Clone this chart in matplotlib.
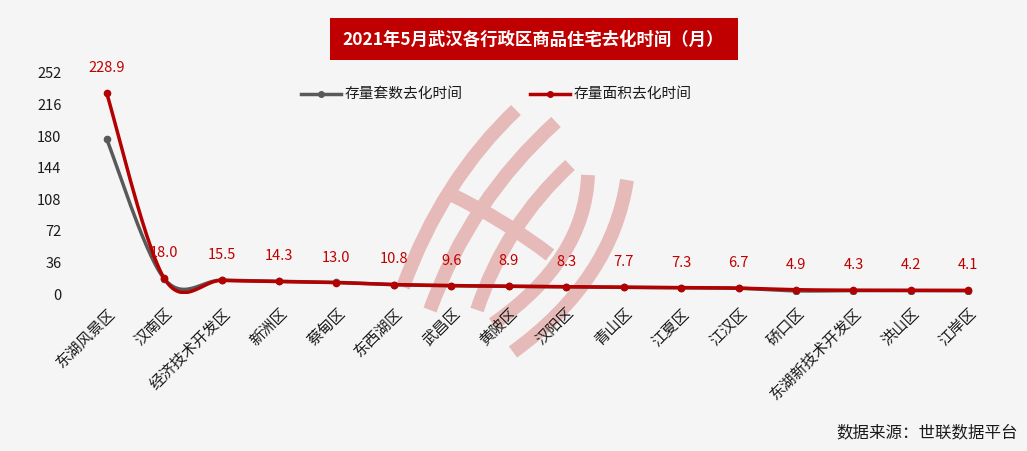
import numpy as np
import matplotlib
matplotlib.use("Agg")
from matplotlib import pyplot as plt
from matplotlib.patches import PathPatch, Rectangle
from matplotlib.path import Path

plt.rcParams["font.family"] = ["Noto Sans CJK SC", "DejaVu Sans"]

districts = ["东湖风景区", "汉南区", "经济技术开发区", "新洲区", "蔡甸区", "东西湖区",
             "武昌区", "黄陂区", "汉阳区", "青山区", "江夏区", "江汉区", "硚口区",
             "东湖新技术开发区", "洪山区", "江岸区"]
units_months = [176.5, 17.5, 15.8, 14.5, 13.3, 10.6, 9.4, 8.7, 8.1, 7.5, 7.1, 6.5,
                3.6, 3.9, 3.9, 3.8]
area_months = [228.9, 18.0, 15.5, 14.3, 13.0, 10.8, 9.6, 8.9, 8.3, 7.7, 7.3, 6.7,
               4.9, 4.3, 4.2, 4.1]
y_ticks = [0, 36, 72, 108, 144, 180, 216, 252]

RED = "#b30000"
GREY = "#595959"
BG = "#f5f5f5"
W, H = 1027, 451


def smooth(x, y, n=30):
    # Excel-like smoothed line: cubic bezier with catmull-rom control points
    x = np.asarray(x, float)
    y = np.asarray(y, float)
    px = np.concatenate([[x[0]], x, [x[-1]]])
    py = np.concatenate([[y[0]], y, [y[-1]]])
    xs, ys = [], []
    t = np.linspace(0, 1, n)
    for i in range(1, len(px) - 2):
        p0, p1, p2, p3 = (np.array([px[k], py[k]]) for k in range(i - 1, i + 3))
        c1 = p1 + (p2 - p0) / 6
        c2 = p2 - (p3 - p1) / 6
        pts = ((1 - t) ** 3)[:, None] * p1 + (3 * (1 - t) ** 2 * t)[:, None] * c1 \
            + (3 * (1 - t) * t ** 2)[:, None] * c2 + (t ** 3)[:, None] * p2
        xs.extend(pts[:, 0])
        ys.extend(pts[:, 1])
    return np.array(xs), np.array(ys)


fig = plt.figure(figsize=(W / 100, H / 100), dpi=100, facecolor=BG)

# faint watermark logo behind the plot (pixel coordinates)
wm = fig.add_axes([0, 0, 1, 1], facecolor="none")
wm.set_xlim(0, W)
wm.set_ylim(H, 0)
wm.axis("off")
wm_color = "#e6bab8"
strokes = [
    [(516, 110), (442, 180), (403, 287)],
    [(556, 122), (470, 200), (430, 310)],
    [(570, 165), (505, 225), (477, 310)],
    [(588, 175), (585, 260), (493, 324)],
    [(627, 180), (612, 280), (513, 352)],
    [(448, 193), (505, 220), (550, 255)],
]
for pts in strokes:
    path = Path(pts, [Path.MOVETO, Path.CURVE3, Path.CURVE3])
    wm.add_patch(PathPatch(path, facecolor="none", edgecolor=wm_color,
                           linewidth=10, capstyle="butt"))

ax = fig.add_axes([78 / W, 1 - 294 / H, (997 - 78) / W, (294 - 73) / H],
                  facecolor="none")
x = np.arange(len(districts))

sx, sy = smooth(x, units_months)
ax.plot(sx, sy, color=GREY, linewidth=2.5, solid_capstyle="round")
ax.plot(x, units_months, "o", color=GREY, markersize=4.5)
sx, sy = smooth(x, area_months)
ax.plot(sx, sy, color=RED, linewidth=2.5, solid_capstyle="round")
ax.plot(x, area_months, "o", color=RED, markersize=4.5)

for xi, v in zip(x, area_months):
    ax.annotate(f"{v:.1f}", (xi, v), xytext=(0, 13), textcoords="offset points",
                ha="center", va="bottom", color="#c00000", fontsize=10.5)

ax.set_xlim(-0.5, len(districts) - 0.5)
ax.set_ylim(0, 252)
ax.set_yticks(y_ticks)
ax.set_xticks(x)
ax.set_xticklabels(districts, rotation=45, ha="right", va="top",
                   rotation_mode="anchor", fontsize=11)
ax.tick_params(axis="both", length=0, colors="#1a1a1a")
ax.tick_params(axis="y", pad=12, labelsize=10.5)
ax.tick_params(axis="x", pad=8)
for s in ax.spines.values():
    s.set_visible(False)

# legend
legend_items = [("存量套数去化时间", GREY, 301), ("存量面积去化时间", RED, 530)]
for label, col, lx in legend_items:
    ly = 1 - 94 / H
    fig.add_artist(plt.Line2D([lx / W, (lx + 40) / W], [ly, ly],
                              color=col, linewidth=2.5))
    fig.add_artist(plt.Line2D([(lx + 20) / W], [ly], marker="o",
                              color=col, markersize=4))
    fig.text((lx + 44) / W, ly, label, ha="left", va="center",
             fontsize=10.6, color="#1a1a1a")

# title box
fig.add_artist(Rectangle((330 / W, 1 - 60 / H), (738 - 330) / W, 42 / H,
                         transform=fig.transFigure, facecolor="#c00000",
                         edgecolor="none"))
fig.text(533 / W, 1 - 40 / H, "2021年5月武汉各行政区商品住宅去化时间（月）",
         ha="center", va="center", color="white", fontsize=12.5, fontweight="bold")

fig.text(1018 / W, 1 - 433 / H, "数据来源：世联数据平台", ha="right",
         va="center", fontsize=11.9, color="#1a1a1a")

fig.savefig("out.png", dpi=100, facecolor=BG)
